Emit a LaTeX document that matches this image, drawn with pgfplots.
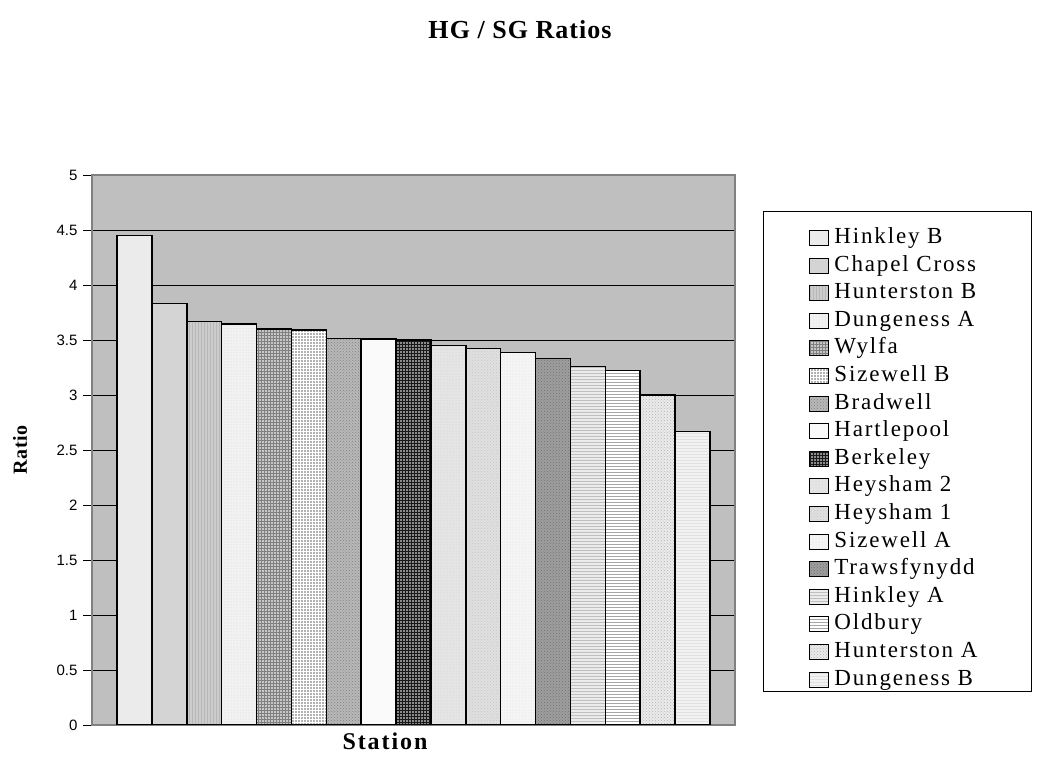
\documentclass[border=0pt]{standalone}
\usepackage{fontspec}
\setmainfont{Liberation Serif}
\newfontfamily\arialfont{Liberation Sans}
\newfontfamily\legfont[LetterSpace=8]{Liberation Serif}
\newfontfamily\titfont[LetterSpace=4]{Liberation Serif}
\newfontfamily\labfont[LetterSpace=8]{Liberation Serif}
\usepackage{pgfplots}
\pgfplotsset{compat=1.18}
\usetikzlibrary{patterns}
\begin{document}
\begin{tikzpicture}[x=1pt,y=1pt]
\path[use as bounding box] (-92,-48) rectangle (949,725);
\begin{axis}[at={(0,0)}, anchor=south west, scale only axis,
  width=643pt, height=550pt,
  xmin=-0.22, xmax=18.22, ymin=0, ymax=5,
  ytick={0,0.5,1,1.5,2,2.5,3,3.5,4,4.5,5},
  yticklabels={0,0.5,1,1.5,2,2.5,3,3.5,4,4.5,5},
  xtick=\empty, ytick pos=left,
  axis background/.style={fill=black!25},
  ymajorgrids, grid style={black, line width=0.7pt},
  axis line style={draw=black!50, line width=1.2pt},
  tick align=outside, major tick length=9pt,
  ytick style={black, line width=0.7pt},
  yticklabel style={font=\arialfont\fontsize{15}{17}\selectfont, xshift=-2pt},
  ybar, bar width=1, bar shift=0pt,
  every axis plot/.append style={draw=black, line width=1.4pt, bar shift=0pt},
  legend image code/.code={\draw[#1, line width=1pt, draw=black] (0pt,-7pt) rectangle (18.5pt,8pt); \path (22pt,0pt);},
  legend style={draw=none, fill=none, at={(1.1151,0.905)}, anchor=north west,
    font=\legfont\fontsize{23}{26}\selectfont, cells={anchor=west},
    inner sep=0pt, row sep=5.6pt,
    nodes={inner sep=2pt, text height=14pt, text depth=4pt}},
]
\addplot[fill=black!8] coordinates {(1,4.45)};
\addlegendentry{Hinkley B}
\addplot[fill=black!17] coordinates {(2,3.83)};
\addlegendentry{Chapel Cross}
\addplot[fill=black!20, postaction={pattern=vertical lines, pattern color=black!28}] coordinates {(3,3.67)};
\addlegendentry{Hunterston B}
\addplot[fill=black!5, postaction={pattern=dots, pattern color=black!18}] coordinates {(4,3.645)};
\addlegendentry{Dungeness A}
\addplot[fill=black!22, postaction={pattern=grid, pattern color=black!50}] coordinates {(5,3.60)};
\addlegendentry{Wylfa}
\addplot[fill=black!30, postaction={pattern=grid, pattern color=white}] coordinates {(6,3.59)};
\addlegendentry{Sizewell B}
\addplot[fill=black!28, postaction={pattern=crosshatch dots, pattern color=black!50}] coordinates {(7,3.515)};
\addlegendentry{Bradwell}
\addplot[fill=black!2] coordinates {(8,3.51)};
\addlegendentry{Hartlepool}
\addplot[fill=black!45, postaction={pattern=grid, pattern color=black!90}] coordinates {(9,3.50)};
\addlegendentry{Berkeley}
\addplot[fill=black!10, postaction={pattern=dots, pattern color=black!20}] coordinates {(10,3.45)};
\addlegendentry{Heysham 2}
\addplot[fill=black!12, postaction={pattern=crosshatch dots, pattern color=black!22}] coordinates {(11,3.42)};
\addlegendentry{Heysham 1}
\addplot[fill=black!4, postaction={pattern=dots, pattern color=black!15}] coordinates {(12,3.385)};
\addlegendentry{Sizewell A}
\addplot[fill=black!38, postaction={pattern=crosshatch dots, pattern color=black!55}] coordinates {(13,3.33)};
\addlegendentry{Trawsfynydd}
\addplot[fill=black!8, postaction={pattern=horizontal lines, pattern color=black!25}] coordinates {(14,3.26)};
\addlegendentry{Hinkley A}
\addplot[fill=white, postaction={pattern=horizontal lines, pattern color=black!35}] coordinates {(15,3.22)};
\addlegendentry{Oldbury}
\addplot[fill=black!8, postaction={pattern=crosshatch dots, pattern color=black!30}] coordinates {(16,3.00)};
\addlegendentry{Hunterston A}
\addplot[fill=black!5, postaction={pattern=horizontal lines, pattern color=black!12}] coordinates {(17,2.67)};
\addlegendentry{Dungeness B}
\end{axis}
\draw[black, line width=1pt] (671,33) rectangle (939,513);
\node[font=\titfont\bfseries\fontsize{26}{30}\selectfont] at (428,695) {HG / SG Ratios};
\node[font=\labfont\bfseries\fontsize{24}{28}\selectfont] at (293,-16) {Station};
\node[font=\titfont\bfseries\fontsize{20}{24}\selectfont, rotate=90] at (-72,275) {Ratio};
\end{tikzpicture}
\end{document}
